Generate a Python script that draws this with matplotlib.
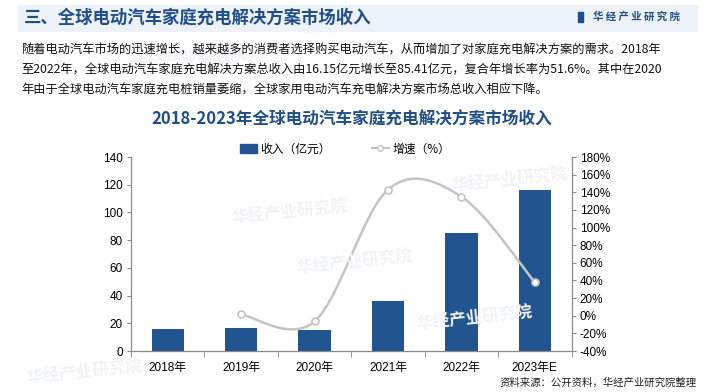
import matplotlib
matplotlib.use("Agg")
import matplotlib.pyplot as plt
from matplotlib.path import Path
from matplotlib.patches import PathPatch, Rectangle
from matplotlib.lines import Line2D
import numpy as np

CATEGORIES = ["2018年", "2019年", "2020年", "2021年", "2022年", "2023年E"]
REVENUE = [16.15, 16.3, 15.2, 36.0, 85.41, 116.2]
GROWTH = [None, 1.5, -6.5, 143.0, 135.0, 38.0]

HEADER = "三、全球电动汽车家庭充电解决方案市场收入"
PARAGRAPH = [
    "随着电动汽车市场的迅速增长，越来越多的消费者选择购买电动汽车，从而增加了对家庭充电解决方案的需求。2018年",
    "至2022年，全球电动汽车家庭充电解决方案总收入由16.15亿元增长至85.41亿元，复合年增长率为51.6%。其中在2020",
    "年由于全球电动汽车家庭充电桩销量萎缩，全球家用电动汽车充电解决方案市场总收入相应下降。",
]
TITLE = "2018-2023年全球电动汽车家庭充电解决方案市场收入"
SOURCE = "资料来源：公开资料，华经产业研究院整理"

BLUE = "#22558f"
DARK = "#1f4e8a"
GREY = "#c4c4c4"
AXIS = "#898989"

CJK = ["Noto Sans CJK SC", "DejaVu Sans"]
NUM = ["Liberation Sans", "Noto Sans CJK SC"]

plt.rcParams["font.family"] = CJK

fig = plt.figure(figsize=(7.04, 3.92), dpi=100)
W, H = 704, 392


def fx(px):
    return px / W


def fy(py):
    return 1 - py / H


# faint watermarks
for (x, y) in [(360, 22), (190, 60), (290, 212), (355, 262), (510, 180), (475, 318), (85, 372)]:
    fig.text(fx(x), fy(y), "华经产业研究院", fontsize=12, fontweight="bold", color="#f1f2f5",
             ha="center", va="center", rotation=6, zorder=0)

# header band
fig.patches.append(Rectangle((fx(18), fy(31)), fx(697) - fx(18), fy(5) - fy(31),
                             transform=fig.transFigure, color="#edf1f8", zorder=1))
fig.text(fx(24), fy(18), HEADER, fontsize=12.5, fontweight="bold", color=DARK, va="center", zorder=2)
fig.patches.append(Rectangle((fx(578), fy(22)), fx(5), fy(12) - fy(22),
                             transform=fig.transFigure, color=DARK, zorder=2))
fig.text(fx(593), fy(17), "华 经 产 业 研 究 院", fontsize=7.5, fontweight="bold", color=DARK, va="center", zorder=2)

for i, line in enumerate(PARAGRAPH):
    fig.text(fx(21), fy(50 + i * 20), line, fontsize=8.8, color="#111111", va="center")

fig.text(0.5, fy(120), TITLE, fontsize=12, fontweight="bold", color=DARK, ha="center", va="center")

ax = fig.add_axes([fx(131), fy(351), fx(571.5) - fx(131), fy(157) - fy(351)])
ax.patch.set_alpha(0)
x = np.arange(len(CATEGORIES))
ax.bar(x, REVENUE, width=0.44, color=BLUE, zorder=2)
ax.set_xlim(-0.5, len(CATEGORIES) - 0.5)
ax.set_ylim(0, 140)
ax.set_yticks(range(0, 141, 20))
ax.set_xticks(x)
ax.set_xticklabels(CATEGORIES, family=NUM, fontsize=8.5)
ax.set_xticks(np.arange(-0.5, len(CATEGORIES)), minor=True)
ax.tick_params(axis="x", which="major", length=0, pad=8)
ax.tick_params(axis="x", which="minor", length=4, color=AXIS)
ax.tick_params(axis="y", length=3, color=AXIS, labelsize=8.5, pad=3)
for lab in ax.get_yticklabels():
    lab.set_family(NUM)
ax.spines["top"].set_visible(False)
for side in ["left", "bottom", "right"]:
    ax.spines[side].set_color(AXIS)

ax2 = ax.twinx()
ax2.set_ylim(-40, 180)
ax2.set_yticks(range(-40, 181, 20))
ax2.set_yticklabels([f"{v}%" for v in range(-40, 181, 20)], family=NUM, fontsize=8.5)
ax2.tick_params(axis="y", length=3, color=AXIS, pad=3)
ax2.spines["top"].set_visible(False)
for side in ["left", "bottom", "right"]:
    ax2.spines[side].set_color(AXIS)

# smoothed growth line (Excel-style bezier through the points)
gx = [i for i, g in enumerate(GROWTH) if g is not None]
gy = [g for g in GROWTH if g is not None]
pts = np.column_stack([gx, gy]).astype(float)
verts = [tuple(pts[0])]
codes = [Path.MOVETO]
n = len(pts)
for i in range(n - 1):
    p0 = pts[max(i - 1, 0)]
    p1 = pts[i]
    p2 = pts[i + 1]
    p3 = pts[min(i + 2, n - 1)]
    c1 = p1 + (p2 - p0) / 6
    c2 = p2 - (p3 - p1) / 6
    verts += [tuple(c1), tuple(c2), tuple(p2)]
    codes += [Path.CURVE4] * 3
ax2.add_patch(PathPatch(Path(verts, codes), facecolor="none", edgecolor=GREY, lw=1.8, zorder=3))
ax2.plot(gx, gy, ls="none", marker="o", ms=5, mfc="white", mec=GREY, mew=1.2, zorder=4)

handles = [Rectangle((0, 0), 1, 1, color=BLUE),
           Line2D([], [], color=GREY, lw=1.5, marker="o", ms=4, mfc="white", mec=GREY)]
fig.legend(handles, ["收入（亿元）", "增速（%）"], loc="center", bbox_to_anchor=(fx(345), fy(149)),
           ncol=2, frameon=False, fontsize=8.5, handlelength=1.4, handleheight=0.8,
           columnspacing=3.5, handletextpad=0.3)

fig.text(fx(697), fy(383), SOURCE, fontsize=7.5, color="#222222", ha="right", va="center")

fig.savefig("out.png", dpi=100)
